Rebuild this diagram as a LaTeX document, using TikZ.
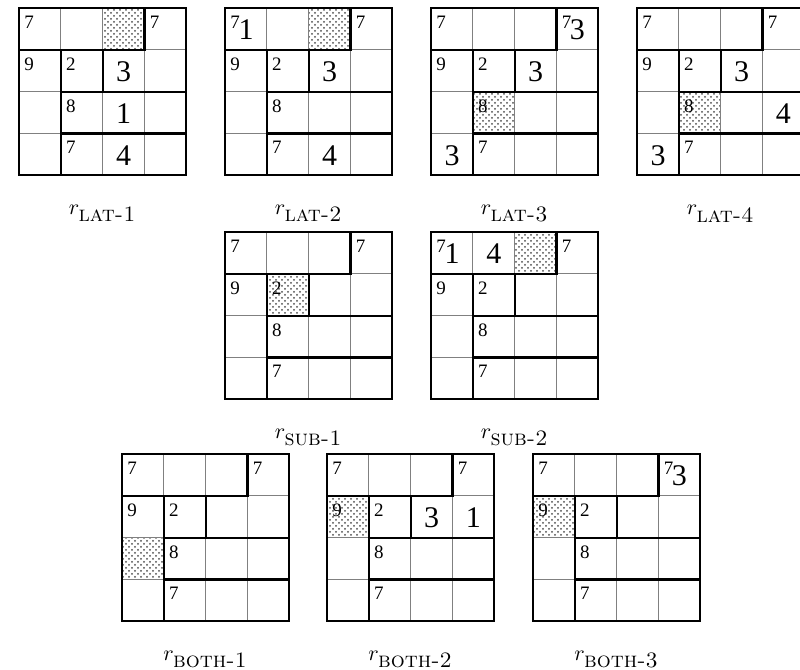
\documentclass[tikz,border=0pt]{standalone}
\usepackage{fontspec}
\newfontfamily\gridfont{Liberation Serif}
\usetikzlibrary{patterns}

\begin{document}
\begin{tikzpicture}[x=0.5pt, y=-0.5pt,
    thin grid/.style={gray, line width=0.5pt},
    cage/.style={line width=1.1pt},
    clue/.style={anchor=north west, inner sep=1pt, xshift=1.5pt, yshift=-2.8pt, font=\gridfont\fontsize{9.5}{10}\selectfont},
    digit/.style={font=\gridfont\fontsize{15}{17}\selectfont},
    shade/.style={pattern=crosshatch dots, pattern color=black!70},
    lab/.style={font=\fontsize{11}{13}\selectfont}]
    \useasboundingbox (0,0) rectangle (800,670);
    % Grids
    \foreach \n/\gx/\gy/\sc/\sr/\lab in {
        lat1/19/8/2/0/lat-1, lat2/225/8/2/0/lat-2,
        lat3/431/8/1/2/lat-3, lat4/637/8/1/2/lat-4,
        sub1/225/232/1/1/sub-1, sub2/431/232/2/0/sub-2,
        both1/122/454/0/2/both-1, both2/327/454/0/1/both-2,
        both3/533/454/0/1/both-3} {
        \coordinate (\n) at (\gx,\gy);
        \begin{scope}[shift={(\n)}, x=20.9pt, y=-20.9pt]
            % Shaded cell
            \fill[shade] (\sc,\sr) rectangle ++(1,1);
            % Cells
            \foreach \k in {1,2,3} {
                \draw[thin grid] (\k,0) -- (\k,4);
                \draw[thin grid] (0,\k) -- (4,\k);
            }
            % Cages
            \draw[cage] (0,0) rectangle (4,4);
            \draw[cage] (0,1) -- (3,1) -- (3,0);
            \draw[cage] (1,1) -- (1,4);
            \draw[cage] (1,2) -- (4,2);
            \draw[cage] (1,3) -- (4,3);
            \draw[cage] (2,1) -- (2,2);
            % Clues
            \node[clue] (\n-c1) at (0,0) {7};
            \node[clue] (\n-c2) at (3,0) {7};
            \node[clue] (\n-c3) at (0,1) {9};
            \node[clue] (\n-c4) at (1,1) {2};
            \node[clue] (\n-c5) at (1,2) {8};
            \node[clue] (\n-c6) at (1,3) {7};
            % Label
            \node[lab] (\n-lab) at (2,4.92) {$r_{\textsc{\lab}}$};
        \end{scope}
    }
    % Digits
    \foreach \n/\c/\r/\v [count=\i] in {
        lat1/2/1/3, lat1/2/2/1, lat1/2/3/4,
        lat2/0/0/1, lat2/2/1/3, lat2/2/3/4,
        lat3/3/0/3, lat3/2/1/3, lat3/0/3/3,
        lat4/2/1/3, lat4/3/2/4, lat4/0/3/3,
        sub2/0/0/1, sub2/1/0/4,
        both2/2/1/3, both2/3/1/1, both3/3/0/3}
        \node[digit] (d\i) at ([shift={(\c*41.8+21,\r*41.8+22)}]\n) {\v};
\end{tikzpicture}
\end{document}
